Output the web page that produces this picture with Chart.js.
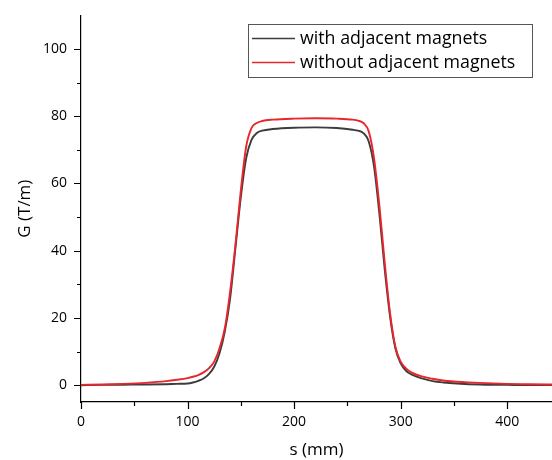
<!DOCTYPE html>
<html>
<head>
<meta charset="utf-8">
<script src="https://cdn.jsdelivr.net/npm/chart.js@4.4.1/dist/chart.umd.min.js"></script>
<style>
html,body{margin:0;padding:0;background:#fff;}
#wrap{width:552px;height:460px;}
</style>
</head>
<body>
<div id="wrap"><canvas id="c" width="552" height="460"></canvas></div>
<script>
// ---- data ----
const sValues = [0, 20, 40, 60, 80, 90, 100, 105, 110, 115, 120, 125, 130, 135, 140, 145, 150, 155, 160, 165, 170, 180, 200, 220, 240, 255, 260, 265, 270, 275, 280, 285, 290, 295, 300, 305, 310, 320, 330, 340, 360, 380, 400, 420, 442];
const withAdjacent = [0, 0.1, 0.15, 0.2, 0.3, 0.4, 0.5, 0.8, 1.3, 2.0, 3.3, 5.5, 9.5, 16, 26, 41, 56, 67.5, 73, 75, 75.7, 76.2, 76.6, 76.7, 76.5, 76.0, 75.7, 75.0, 72.5, 65, 51, 34.5, 20.5, 11, 6.5, 4.3, 3.2, 2.0, 1.2, 0.8, 0.35, 0.15, 0.1, 0.05, 0.05];
const withoutAdjacent = [0.1, 0.2, 0.4, 0.7, 1.2, 1.6, 2.1, 2.5, 3.0, 3.8, 5.0, 7.0, 11.0, 17, 28, 42, 58, 71, 76.5, 78, 78.6, 79.0, 79.3, 79.4, 79.3, 79.0, 78.7, 78.0, 75.5, 67.5, 53.5, 36.5, 21.5, 11.5, 7, 5, 3.8, 2.6, 1.9, 1.4, 0.9, 0.6, 0.4, 0.3, 0.2];
const seriesLabels = ['with adjacent magnets', 'without adjacent magnets'];
const xMajorTicks = [0, 100, 200, 300, 400];
const xMinorTicks = [50, 150, 250, 350];
const yMajorTicks = [0, 20, 40, 60, 80, 100];
const yMinorTicks = [10, 30, 50, 70, 90];

const FONT = '"Open Sans", "DejaVu Sans", sans-serif';
const colBlack = '#3c3c3c';
const colRed = '#e8262d';

function pts(ys){ return sValues.map((s,i)=>({x:s, y:ys[i]})); }

const tickMarks = {
  id:'tickMarks',
  afterDraw(chart){
    const ctx = chart.ctx, x = chart.scales.x, y = chart.scales.y;
    ctx.save();
    ctx.strokeStyle = '#000';
    ctx.lineWidth = 1.2;
    ctx.beginPath();
    xMajorTicks.forEach(v=>{ const p = Math.round(x.getPixelForValue(v))+0.5; ctx.moveTo(p, x.top); ctx.lineTo(p, x.top+7); });
    xMinorTicks.forEach(v=>{ const p = Math.round(x.getPixelForValue(v))+0.5; ctx.moveTo(p, x.top); ctx.lineTo(p, x.top+4); });
    yMajorTicks.forEach(v=>{ const p = Math.round(y.getPixelForValue(v))+0.5; ctx.moveTo(y.right, p); ctx.lineTo(y.right-7, p); });
    yMinorTicks.forEach(v=>{ const p = Math.round(y.getPixelForValue(v))+0.5; ctx.moveTo(y.right, p); ctx.lineTo(y.right-4, p); });
    ctx.stroke();
    ctx.restore();
  }
};

const boxLegend = {
  id:'boxLegend',
  afterDraw(chart){
    const ctx = chart.ctx;
    ctx.save();
    ctx.strokeStyle = '#555';
    ctx.lineWidth = 1;
    ctx.strokeRect(248.5, 24.5, 284, 53);
    const rows = [{c:colBlack, t:seriesLabels[0], y:38.5},{c:colRed, t:seriesLabels[1], y:62.5}];
    ctx.font = '17.8px ' + FONT;
    ctx.textBaseline = 'middle';
    ctx.fillStyle = '#000';
    rows.forEach(r=>{
      ctx.strokeStyle = r.c; ctx.lineWidth = 1.6;
      ctx.beginPath(); ctx.moveTo(252, r.y); ctx.lineTo(295, r.y); ctx.stroke();
      ctx.fillText(r.t, 300, r.y + 0.5);
    });
    ctx.restore();
  }
};

new Chart(document.getElementById('c'), {
  type: 'line',
  data: {
    datasets: [
      {label: seriesLabels[0], data: pts(withAdjacent), borderColor: colBlack, borderWidth: 1.9, pointRadius: 0, cubicInterpolationMode: 'monotone', fill: false, order: 1},
      {label: seriesLabels[1], data: pts(withoutAdjacent), borderColor: colRed, borderWidth: 1.9, pointRadius: 0, cubicInterpolationMode: 'monotone', fill: false, order: 0}
    ]
  },
  options: {
    responsive: false,
    animation: false,
    devicePixelRatio: 1,
    layout: {padding: {top: 15, left: 0, right: 0, bottom: 0}},
    plugins: {legend: {display: false}, tooltip: {enabled: false}},
    scales: {
      x: {
        type: 'linear', min: 0, max: 442,
        afterBuildTicks(s){ s.ticks = xMajorTicks.map(v=>({value:v})); },
        afterFit(s){ s.height = 58; },
        grid: {display: true, drawOnChartArea: false, drawTicks: true, tickLength: 7, color: 'rgba(0,0,0,0)', tickColor: 'rgba(0,0,0,0)'},
        border: {display: true, color: '#000', width: 1.2},
        ticks: {color: '#000', font: {family: FONT, size: 14}, padding: 5, maxRotation: 0},
        title: {display: true, text: 's (mm)', color: '#000', font: {family: FONT, size: 17}, padding: {top: 1, bottom: 0}}
      },
      y: {
        type: 'linear', min: -5, max: 110,
        afterBuildTicks(s){ s.ticks = yMajorTicks.map(v=>({value:v})); },
        afterFit(s){ s.width = 81; },
        grid: {display: true, drawOnChartArea: false, drawTicks: true, tickLength: 7, color: 'rgba(0,0,0,0)', tickColor: 'rgba(0,0,0,0)'},
        border: {display: true, color: '#000', width: 1.2},
        ticks: {color: '#000', font: {family: FONT, size: 14}, padding: 7},
        title: {display: true, text: 'G (T/m)', color: '#000', font: {family: FONT, size: 17}, padding: {top: 15, bottom: 0}}
      }
    }
  },
  plugins: [tickMarks, boxLegend]
});
</script>
</body>
</html>
